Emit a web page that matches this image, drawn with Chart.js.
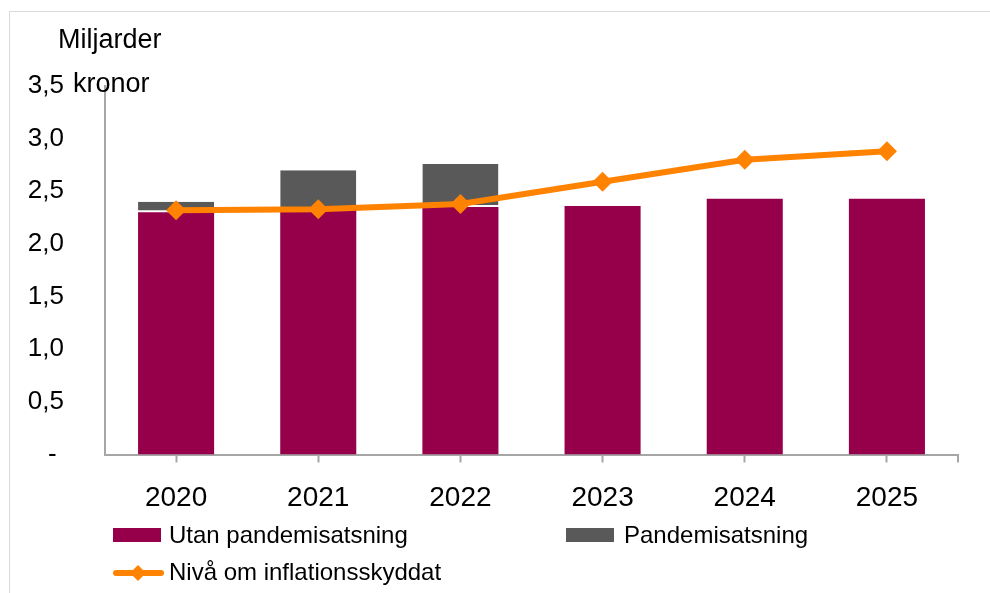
<!DOCTYPE html>
<html>
<head>
<meta charset="utf-8">
<script src="https://cdn.jsdelivr.net/npm/chart.js@4"></script>
<style>
    body { margin: 0; background: #fff; }
    #wrap { position: relative; width: 990px; height: 593px; overflow: hidden; }
    #frame { position: absolute; left: 9px; top: 11px; width: 1200px; height: 800px; border: 1px solid #d9d9d9; }
    canvas { position: absolute; left: 0; top: 0; }
</style>
</head>
<body>
<div id="wrap">
    <div id="frame"></div>
    <canvas id="budgetChart" width="990" height="593"></canvas>
</div>
<script>
// Data
const years = ['2020', '2021', '2022', '2023', '2024', '2025'];
const utanPandemi = [2.30, 2.33, 2.35, 2.36, 2.43, 2.43];
const pandemiSatsning = [0.10, 0.37, 0.41, 0, 0, 0];
const inflationsskyddat = [2.32, 2.33, 2.38, 2.59, 2.80, 2.88];
const yTicks = [0, 0.5, 1.0, 1.5, 2.0, 2.5, 3.0, 3.5];
const axisTitle = ['Miljarder', 'kronor'];

const FONT = "'Liberation Sans', Arial, sans-serif";
const MAROON = '#96004b';
const GREY = '#595959';
const ORANGE = '#ff8200';
const AXIS = '#a6a6a6';

// Egen plugin: titel, legend och slutstreck på x-axeln
const extras = {
    id: 'extras',
    afterDraw(chart) {
        const ctx = chart.ctx;
        const area = chart.chartArea;
        ctx.save();

        // slutstreck på x-axeln
        ctx.strokeStyle = AXIS;
        ctx.lineWidth = 2;
        ctx.beginPath();
        ctx.moveTo(area.right, area.bottom);
        ctx.lineTo(area.right, area.bottom + 8);
        ctx.stroke();

        // axeltitel
        ctx.fillStyle = '#000';
        ctx.textBaseline = 'alphabetic';
        ctx.font = '27px ' + FONT;
        ctx.fillText(axisTitle[0], 58, 48);
        ctx.fillText(axisTitle[1], 73, 92);

        // legend
        const ds = chart.data.datasets;
        ctx.font = '24px ' + FONT;
        ctx.fillStyle = ds[0].backgroundColor;
        ctx.fillRect(113, 528, 48, 14);
        ctx.fillStyle = ds[1].backgroundColor;
        ctx.fillRect(566, 528, 48, 14);

        ctx.strokeStyle = ds[2].borderColor;
        ctx.lineWidth = 6;
        ctx.lineCap = 'round';
        ctx.beginPath();
        ctx.moveTo(116, 573);
        ctx.lineTo(161, 573);
        ctx.stroke();
        ctx.fillStyle = ds[2].borderColor;
        ctx.beginPath();
        ctx.moveTo(138, 565);
        ctx.lineTo(146, 573);
        ctx.lineTo(138, 581);
        ctx.lineTo(130, 573);
        ctx.closePath();
        ctx.fill();

        ctx.fillStyle = '#000';
        ctx.fillText(ds[0].label, 169, 543);
        ctx.fillText(ds[1].label, 624, 543);
        ctx.fillText(ds[2].label, 169, 580);
        ctx.restore();
    }
};

const ctx = document.getElementById('budgetChart').getContext('2d');
const budgetChart = new Chart(ctx, {
    type: 'bar',
    data: {
        labels: years,
        datasets: [
            {
                label: 'Utan pandemisatsning',
                data: utanPandemi,
                backgroundColor: MAROON,
                borderWidth: 0,
                barPercentage: 0.535,
                categoryPercentage: 1,
                order: 1
            },
            {
                label: 'Pandemisatsning',
                data: pandemiSatsning,
                backgroundColor: GREY,
                borderColor: '#fff',
                borderWidth: { bottom: 2, top: 0, left: 0, right: 0 },
                borderSkipped: false,
                barPercentage: 0.535,
                categoryPercentage: 1,
                order: 1
            },
            {
                type: 'line',
                label: 'Nivå om inflationsskyddat',
                data: inflationsskyddat,
                stack: 'line',
                borderColor: ORANGE,
                backgroundColor: ORANGE,
                borderWidth: 6,
                pointStyle: 'rectRot',
                pointRadius: 10,
                pointBorderWidth: 0,
                pointBackgroundColor: ORANGE,
                tension: 0,
                order: 0
            }
        ]
    },
    options: {
        responsive: false,
        animation: false,
        layout: { padding: { top: 86, right: 32, bottom: 0, left: 0 } },
        plugins: {
            legend: { display: false },
            tooltip: { enabled: false }
        },
        scales: {
            x: {
                stacked: true,
                offset: true,
                grid: {
                    display: true,
                    offset: false,
                    drawOnChartArea: false,
                    drawTicks: true,
                    tickLength: 8,
                    tickWidth: 2,
                    color: AXIS
                },
                border: { color: AXIS, width: 2 },
                ticks: { color: '#000', font: { family: FONT, size: 28 }, padding: 19 },
                afterFit: scale => { scale.height = 138.5; }
            },
            y: {
                stacked: true,
                min: 0,
                max: 3.5,
                afterBuildTicks: scale => { scale.ticks = yTicks.map(v => ({ value: v })); },
                grid: { display: false, drawTicks: false },
                border: { color: AXIS, width: 2 },
                ticks: {
                    color: '#000',
                    font: { family: FONT, size: 26 },
                    padding: 41,
                    callback: v => v === 0 ? '- ' : v.toFixed(1).replace('.', ',')
                },
                afterFit: scale => { scale.width = 105; }
            }
        }
    },
    plugins: [extras]
});
</script>
</body>
</html>
